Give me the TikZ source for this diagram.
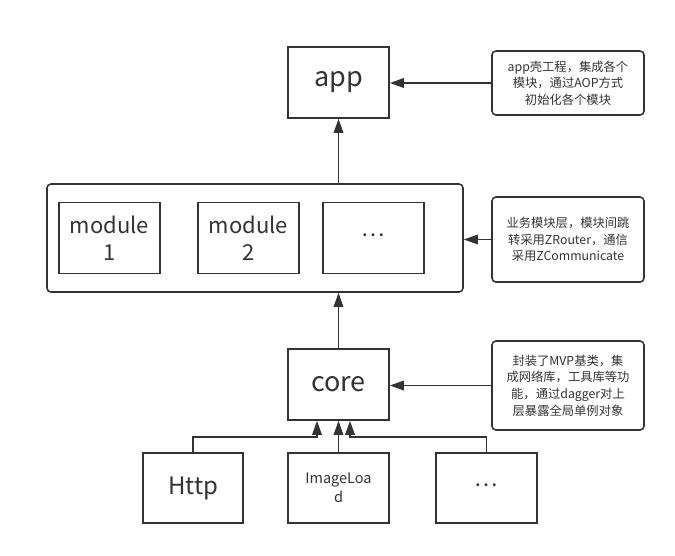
\documentclass[tikz,border=0pt]{standalone}
\usepackage{fontspec}
\setmainfont{Noto Sans CJK SC}
\usepackage{tikz}
\usetikzlibrary{arrows.meta,positioning}
\definecolor{ink}{HTML}{333333}
\newcommand{\middots}{\raisebox{0.3em}{…}}

\begin{document}
\begin{tikzpicture}[x=1pt, y=-1pt, line width=1.6pt, draw=ink, text=ink,
  every node/.style={font=\fontsize{22}{27}\selectfont, text=ink},
  block/.style={rectangle, draw=ink, line width=1.6pt, minimum width=101pt,
                minimum height=71pt, align=center, inner sep=2pt},
  note/.style={rectangle, draw=ink, line width=1.6pt, rounded corners=4pt,
               minimum width=152pt, align=center,
               font=\fontsize{12.3}{16.7}\selectfont},
  arrow/.style={-{Triangle[length=14pt,width=9.5pt]}, ink, line width=1.6pt}]
  \useasboundingbox (0,0) rectangle (675,555);
  % top: shell project
  \node[block, font=\fontsize{27}{32}\selectfont] (app) at (338.5,82.5) {app};
  \node[note, minimum height=64pt] (appnote) at (568,83)
    {app壳工程，集成各个\\模块，通过AOP方式\\初始化各个模块};
  % module layer
  \node[rectangle, draw=ink, line width=1.6pt, rounded corners=4pt,
        minimum width=416pt, minimum height=108pt] (layer) at (255,238) {};
  \node[block] (mod1) at (109.5,238) {module\\1};
  \node[block] (mod2) at (248.5,238) {module\\2};
  \node[block] (moddots) at (373.5,238) {\middots};
  \node[note, minimum height=85pt] (layernote) at (568,239.5)
    {业务模块层，模块间跳\\转采用ZRouter，通信\\采用ZCommunicate};
  % core
  \node[block, font=\fontsize{27}{32}\selectfont] (core) at (338.5,384.5) {core};
  \node[note, minimum height=89pt] (corenote) at (568,385.5)
    {封装了MVP基类，集\\成网络库，工具库等功\\能，通过dagger对上\\层暴露全局单例对象};
  % libraries
  \node[block, minimum width=100pt, minimum height=70pt,
        font=\fontsize{24}{28}\selectfont] (http) at (193,488) {Http};
  \node[block, minimum height=70pt, font=\fontsize{14.5}{19.5}\selectfont]
    (imgload) at (338.5,488) {ImageLoa\\d};
  \node[block, minimum height=70pt] (libdots) at (486.5,488) {\middots};
  \coordinate (busL) at (317,437);
  \coordinate (busR) at (350,437);

  \draw[arrow] (appnote.west) -- (appnote.west -| app.east);
  \draw[arrow] (layernote.west) -- (layernote.west -| layer.east);
  \draw[arrow] (corenote.west) -- (corenote.west -| core.east);
  \draw[arrow] (layer.north -| app) -- (app.south);
  \draw[arrow] (core.north) -- (layer.south -| core);
  \draw[arrow] (http.north) |- (busL) -- (busL |- core.south);
  \draw[arrow] (imgload) -- (core);
  \draw[arrow] (libdots.north) |- (busR) -- (busR |- core.south);
\end{tikzpicture}
\end{document}
